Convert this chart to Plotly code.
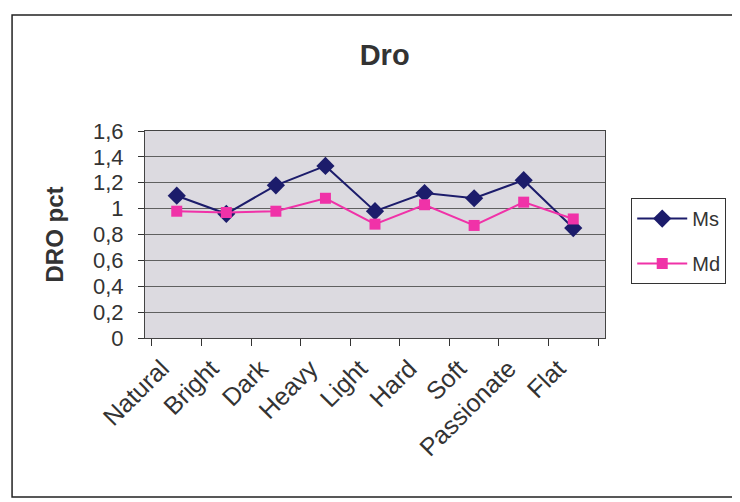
import plotly.graph_objects as go

categories = ["Natural", "Bright", "Dark", "Heavy", "Light", "Hard", "Soft", "Passionate", "Flat"]
ms = [1.10, 0.96, 1.18, 1.33, 0.98, 1.12, 1.08, 1.22, 0.85]
md = [0.98, 0.97, 0.98, 1.08, 0.88, 1.03, 0.87, 1.05, 0.92]

FONT = "Liberation Sans, Arial, sans-serif"

fig = go.Figure()
fig.add_trace(go.Scatter(x=categories, y=ms, name="Ms", mode="lines+markers",
                         legendgroup="a",
                         line=dict(color="#1c1c6b", width=2),
                         marker=dict(symbol="diamond", size=14, color="#1c1c6b")))
fig.add_trace(go.Scatter(x=categories, y=md, name="Md", mode="lines+markers",
                         legendgroup="b",
                         line=dict(color="#f032a8", width=2),
                         marker=dict(symbol="square", size=11, color="#f032a8")))

# outer chart frame
fig.add_shape(type="rect", xref="paper", yref="paper",
              x0=-0.289, x1=1.31, y0=-0.768, y1=1.56,
              line=dict(color="#222", width=1.5), fillcolor="rgba(0,0,0,0)")

# page body has an 8px margin, so the figure is laid out 8px up/left
fig.update_layout(
    width=740, height=502,
    margin=dict(l=137, r=143, t=123, b=172, autoexpand=False),
    paper_bgcolor="white", plot_bgcolor="#dcdae0",
    separators=", ",
    font=dict(family=FONT, color="#333", size=20),
    title=dict(text="<b>Dro</b>", x=0.509, xanchor="center", y=0.906, yanchor="middle",
               font=dict(size=29, color="#333")),
    showlegend=True,
    legend=dict(x=1.057, y=0.676, xanchor="left", yanchor="top",
                bordercolor="#333", borderwidth=1, bgcolor="white",
                font=dict(size=20, color="#333"), itemwidth=50,
                tracegroupgap=16),
    xaxis=dict(type="category", tickangle=-45, tickson="boundaries",
               ticks="outside", ticklen=7, tickcolor="#333", automargin=False,
               showline=True, linecolor="#444", mirror=True,
               ticklabelstandoff=5, ticklabelshift=-15,
               showgrid=False, tickfont=dict(size=25, color="#333")),
    yaxis=dict(range=[0, 1.6], dtick=0.2, ticks="outside", ticklen=6,
               tickcolor="#333", showline=True, linecolor="#444", mirror=True,
               showgrid=True, gridcolor="#606060", gridwidth=1, automargin=False,
               zeroline=False, ticklabelstandoff=10,
               tickfont=dict(size=22, color="#333"),
               title=dict(text="<b>DRO pct</b>", font=dict(size=24, color="#333"),
                          standoff=22)),
)

fig.write_html("out.html")
